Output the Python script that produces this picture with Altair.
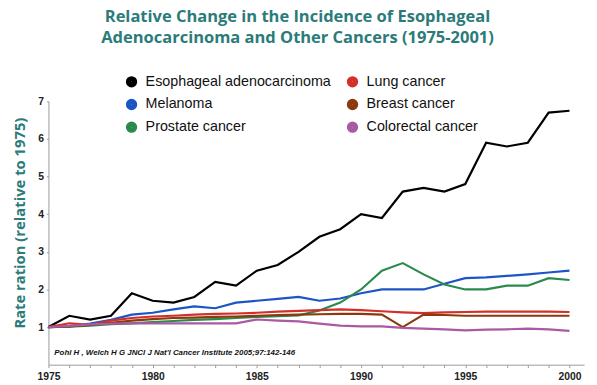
import altair as alt
import pandas as pd

years = list(range(1975, 2001))
series_names = ["Esophageal adenocarcinoma", "Melanoma", "Prostate cancer",
                "Lung cancer", "Breast cancer", "Colorectal cancer"]
colors = ["#000000", "#1c55c4", "#2a8a4e", "#d2302a", "#8a3a0c", "#a85aa3"]

esophageal = [1.0, 1.3, 1.2, 1.3, 1.9, 1.7, 1.65, 1.8, 2.2, 2.1, 2.5, 2.65, 3.0,
              3.4, 3.6, 4.0, 3.9, 4.6, 4.7, 4.6, 4.8, 5.9, 5.8, 5.9, 6.7, 6.75]
melanoma = [1.0, 1.02, 1.09, 1.19, 1.33, 1.38, 1.47, 1.55, 1.5, 1.65, 1.7, 1.75, 1.8,
            1.7, 1.76, 1.9, 2.0, 2.0, 2.0, 2.15, 2.3, 2.32, 2.36, 2.4, 2.45, 2.5]
prostate = [1.0, 1.01, 1.04, 1.08, 1.1, 1.13, 1.16, 1.19, 1.21, 1.24, 1.27, 1.29, 1.31,
            1.44, 1.65, 2.0, 2.5, 2.7, 2.4, 2.13, 2.0, 2.0, 2.1, 2.1, 2.3, 2.25]
lung = [1.0, 1.1, 1.06, 1.17, 1.24, 1.28, 1.3, 1.33, 1.35, 1.36, 1.38, 1.41, 1.43,
        1.45, 1.47, 1.45, 1.42, 1.39, 1.37, 1.39, 1.4, 1.41, 1.41, 1.41, 1.41, 1.4]
breast = [1.0, 1.02, 1.06, 1.11, 1.17, 1.21, 1.24, 1.25, 1.27, 1.28, 1.3, 1.32, 1.33,
          1.34, 1.35, 1.35, 1.33, 1.0, 1.33, 1.32, 1.3, 1.3, 1.3, 1.3, 1.3, 1.3]
colorectal = [1.0, 1.03, 1.07, 1.09, 1.1, 1.1, 1.1, 1.1, 1.1, 1.1, 1.2, 1.17, 1.15,
              1.09, 1.04, 1.02, 1.02, 0.98, 0.96, 0.94, 0.91, 0.93, 0.94, 0.96, 0.94, 0.9]

values_by_series = [esophageal, melanoma, prostate, lung, breast, colorectal]

title_lines = ["Relative Change in the Incidence of Esophageal",
               "Adenocarcinoma and Other Cancers (1975-2001)"]
y_title = "Rate ration (relative to 1975)"
citation = "Pohl H , Welch H G JNCI J Nat'l Cancer Institute 2005;97:142-146"
y_ticks = [1, 2, 3, 4, 5, 6, 7]

rows = []
for name, vals in zip(series_names, values_by_series):
    for yr, v in zip(years, vals):
        rows.append({"year": yr, "rate": v, "series": name})
df = pd.DataFrame(rows)

teal = "#2b7b7a"

lines = alt.Chart(df).mark_line(strokeWidth=2.2).encode(
    x=alt.X("year:Q",
            scale=alt.Scale(domain=[1975, 2000.7], nice=False, zero=False),
            axis=alt.Axis(values=years, title=None, grid=False, format="d",
                          labelExpr="datum.value % 5 == 0 ? datum.label : ''",
                          tickSize=3, labelPadding=4, labelFontSize=10.5,
                          labelFont="Liberation Sans", labelFontWeight="bold",
                          labelColor="#222222", domainColor="#9a9a9a",
                          tickColor="#9a9a9a", labelFlush=False,
                          labelOverlap=False)),
    y=alt.Y("rate:Q",
            scale=alt.Scale(domain=[0, 7], nice=False),
            axis=alt.Axis(values=y_ticks, title=y_title, grid=False,
                          tickSize=2, labelPadding=3, labelFontSize=10.5,
                          labelFont="Liberation Sans", labelFontWeight="bold",
                          labelColor="#222222", domainColor="#9a9a9a",
                          tickColor="#9a9a9a", titleColor=teal,
                          titleFont="Open Sans", titleFontSize=15,
                          titleFontWeight="bold", titlePadding=10,
                          titleY=123)),
    color=alt.Color("series:N",
                    scale=alt.Scale(domain=series_names, range=colors),
                    legend=alt.Legend(orient="none", legendX=77, legendY=-27,
                                      columns=2, title=None,
                                      symbolType="circle", symbolSize=30,
                                      symbolStrokeWidth=6, symbolOpacity=1,
                                      labelFontSize=14.5,
                                      labelFont="Liberation Sans",
                                      labelColor="#111111",
                                      labelOffset=7, rowPadding=-7,
                                      columnPadding=6, labelLimit=300)),
    detail="series:N",
    order="year:Q",
)

note = alt.Chart(pd.DataFrame({"t": [citation]})).mark_text(
    align="left", baseline="middle", font="Liberation Sans",
    fontSize=8, fontStyle="italic", fontWeight="bold", color="#111111"
).encode(text="t:N", x=alt.value(6), y=alt.value(255))

chart = alt.layer(lines, note).properties(
    width=543, height=267,
    padding={"left": 41, "top": 92, "right": 5, "bottom": 18},
    autosize=alt.AutoSizeParams(type="none"),
    title=alt.TitleParams(text=title_lines, anchor="middle", dx=-19,
                          font="Open Sans", fontSize=16.7, fontWeight="bold",
                          color=teal, lineHeight=22, offset=28),
).configure_view(stroke=None)

chart.save("out.html", embed_options={"renderer": "svg", "actions": False})
